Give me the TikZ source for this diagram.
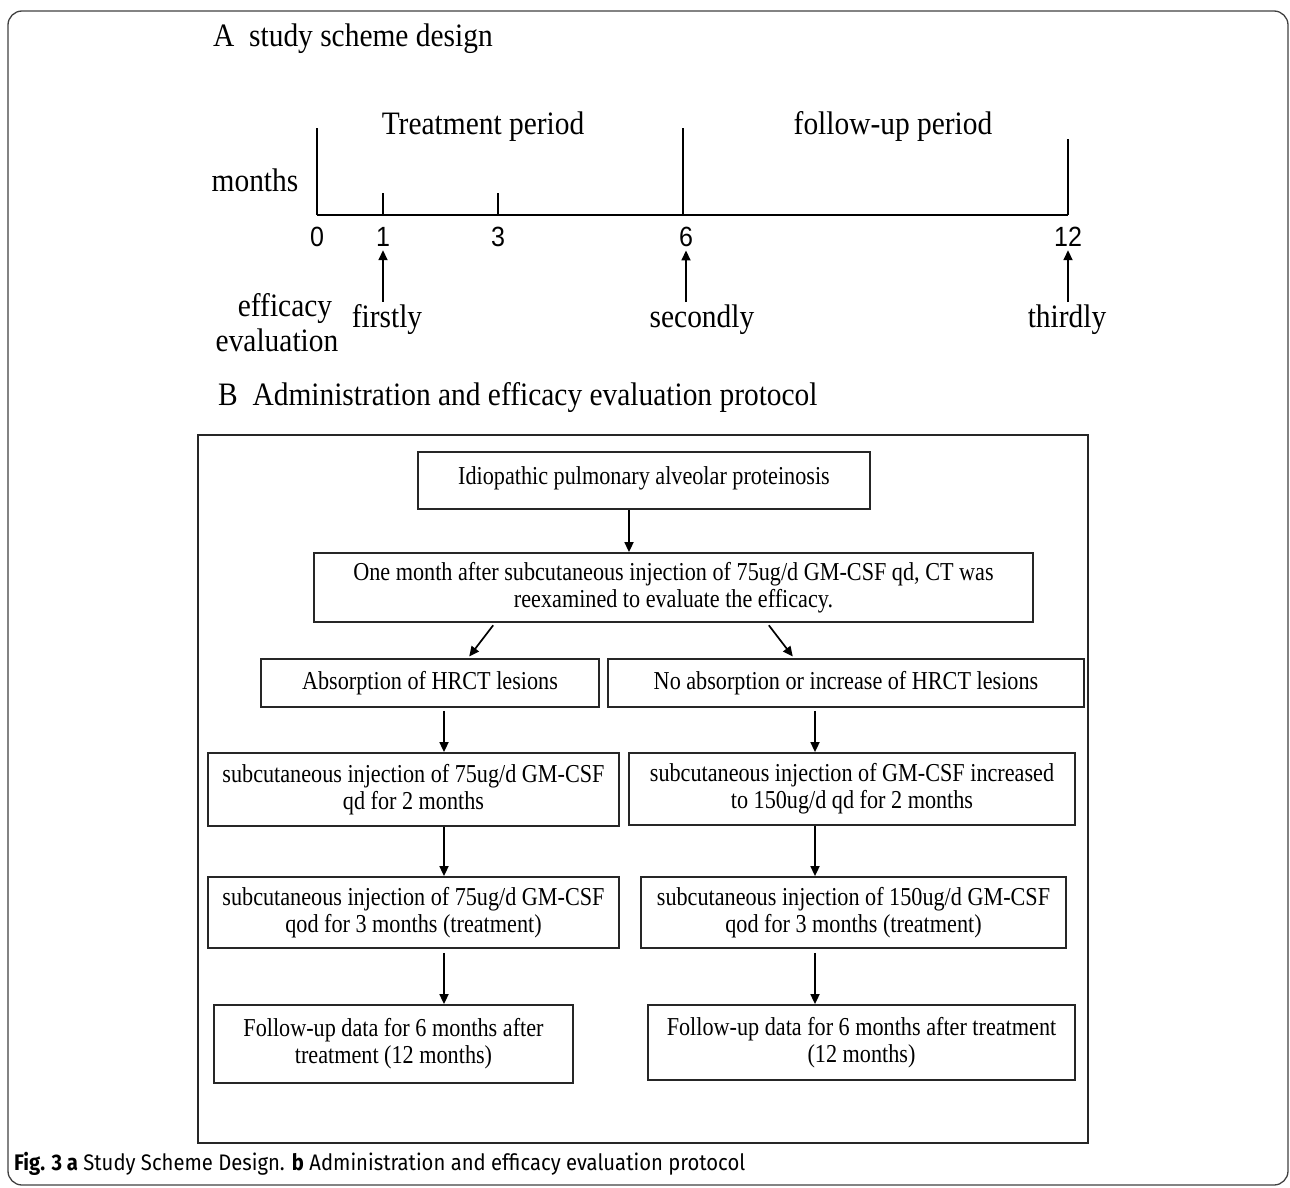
\documentclass[tikz,border=0pt]{standalone}
\usepackage{fontspec}
\setmainfont{Liberation Serif}[FakeStretch=0.9]
\newfontfamily\boxfam{Liberation Serif}[FakeStretch=0.86]
\newfontfamily\axisnumfont{Liberation Sans}[FakeStretch=0.9]
\newfontfamily\figcapfont{Fira Sans}[FakeStretch=0.9]
\usetikzlibrary{arrows.meta}
\newcommand{\lblfont}{\fontsize{32.7}{35}\selectfont}
\newcommand{\boxfont}{\boxfam\fontsize{25.8}{27}\selectfont}

\begin{document}
\begin{tikzpicture}[x=1pt,y=-1pt,
	box/.style={draw=black!85,line width=1.8pt,align=center,inner sep=0pt,font=\boxfont},
	lbl/.style={font=\lblfont,inner sep=0pt,anchor=base},
	num/.style={font=\axisnumfont\fontsize{27.8}{30}\selectfont,inner sep=0pt,anchor=base},
	tline/.style={line width=1.5pt},
	arr/.style={line width=1.7pt,-{Triangle[length=10pt,width=9pt]}}]
	\useasboundingbox (0,0) rectangle (1290,1188);
	\draw[black!75,line width=1.3pt,rounded corners=14pt] (8,11) rectangle (1288,1185);

	% part A: time line
	\node[lbl,anchor=base west] (titA) at (213,47) {A~~study scheme design};
	\node[lbl] (treat) at (483,135) {Treatment period};
	\node[lbl] (follow) at (893,135) {follow-up period};
	\node[lbl] (months) at (255,191) {months};
	\draw[tline] (317,215) -- (1068,215);
	\foreach \m/\xx/\top/\nx in {0/317/128/317, 1/383/193/383, 3/498/193/498, 6/683/128/686, 12/1068/139/1068}{
		\draw[tline] (\xx,215) -- (\xx,\top);
		\node[num] (n\m) at (\nx,246) {\m};
	}
	\node[lbl] (eff1) at (285,316) {efficacy};
	\node[lbl] (eff2) at (277,351) {evaluation};
	\node[lbl] (first) at (387,327) {firstly};
	\node[lbl] (second) at (702,327) {secondly};
	\node[lbl] (third) at (1067,327) {thirdly};
	\draw[arr,shorten >=4pt,shorten <=2pt] (first.north -| n1.south) -- (n1.south);
	\draw[arr,shorten >=4pt,shorten <=2pt] (second.north -| n6.south) -- (n6.south);
	\draw[arr,shorten >=4pt,shorten <=2pt] (third.north -| n12.south) -- (n12.south);

	% part B: protocol
	\node[lbl,anchor=base west] (titB) at (218,405) {B~~Administration and efficacy evaluation protocol};
	\draw[black!85,line width=1.8pt] (198,435) rectangle (1088,1143);

	\node[box,minimum width=452pt,minimum height=57pt,text depth=9pt] (idio) at (644,480.5) {Idiopathic pulmonary alveolar proteinosis};
	\node[box,minimum width=719pt,minimum height=69pt] (onemonth) at (673.5,587.5) {One month after subcutaneous injection of 75ug/d GM-CSF qd, CT was\\reexamined to evaluate the efficacy.};
	\node[box,minimum width=338pt,minimum height=48pt] (absorb) at (430,683) {Absorption of HRCT lesions};
	\node[box,minimum width=476pt,minimum height=48pt] (noabsorb) at (846,683) {No absorption or increase of HRCT lesions};
	\node[box,minimum width=411pt,minimum height=73pt] (lowtwo) at (413.5,789.5) {subcutaneous injection of 75ug/d GM-CSF\\qd for 2 months};
	\node[box,minimum width=446pt,minimum height=72pt] (hightwo) at (852,789) {subcutaneous injection of GM-CSF increased\\to 150ug/d qd for 2 months};
	\node[box,minimum width=411pt,minimum height=71pt] (lowthree) at (413.5,912.5) {subcutaneous injection of 75ug/d GM-CSF\\qod for 3 months (treatment)};
	\node[box,minimum width=425pt,minimum height=71pt] (highthree) at (853.5,912.5) {subcutaneous injection of 150ug/d GM-CSF\\qod for 3 months (treatment)};
	\node[box,minimum width=359pt,minimum height=78pt] (lowfollow) at (393.5,1044) {Follow-up data for 6 months after\\treatment (12 months)};
	\node[box,minimum width=427pt,minimum height=75pt] (highfollow) at (861.5,1042.5) {Follow-up data for 6 months after treatment\\(12 months)};

	\coordinate (mc) at (629,0);
	\coordinate (lc) at (444,0);
	\coordinate (rc) at (815,0);
	\coordinate (dla) at (495,0);
	\coordinate (dlb) at (468,0);
	\coordinate (dra) at (767,0);
	\coordinate (drb) at (794,0);
	\draw[arr] (idio.south -| mc) -- (onemonth.north -| mc);
	\draw[arr,shorten <=3pt,shorten >=2pt] (onemonth.south -| dla) -- (absorb.north -| dlb);
	\draw[arr,shorten <=3pt,shorten >=2pt] (onemonth.south -| dra) -- (noabsorb.north -| drb);
	\draw[arr,shorten <=3pt] (absorb.south -| lc) -- (lowtwo.north -| lc);
	\draw[arr,shorten <=3pt] (noabsorb.south -| rc) -- (hightwo.north -| rc);
	\draw[arr] (lowtwo.south -| lc) -- (lowthree.north -| lc);
	\draw[arr] (hightwo.south -| rc) -- (highthree.north -| rc);
	\draw[arr,shorten <=4pt] (lowthree.south -| lc) -- (lowfollow.north -| lc);
	\draw[arr,shorten <=4pt] (highthree.south -| rc) -- (highfollow.north -| rc);

	\node[anchor=base west,inner sep=0pt,font=\figcapfont\fontsize{22.5}{24}\selectfont] (figcap) at (14,1170) {\textbf{Fig. 3 a} Study Scheme Design. \textbf{b} Administration and efficacy evaluation protocol};
\end{tikzpicture}
\end{document}
